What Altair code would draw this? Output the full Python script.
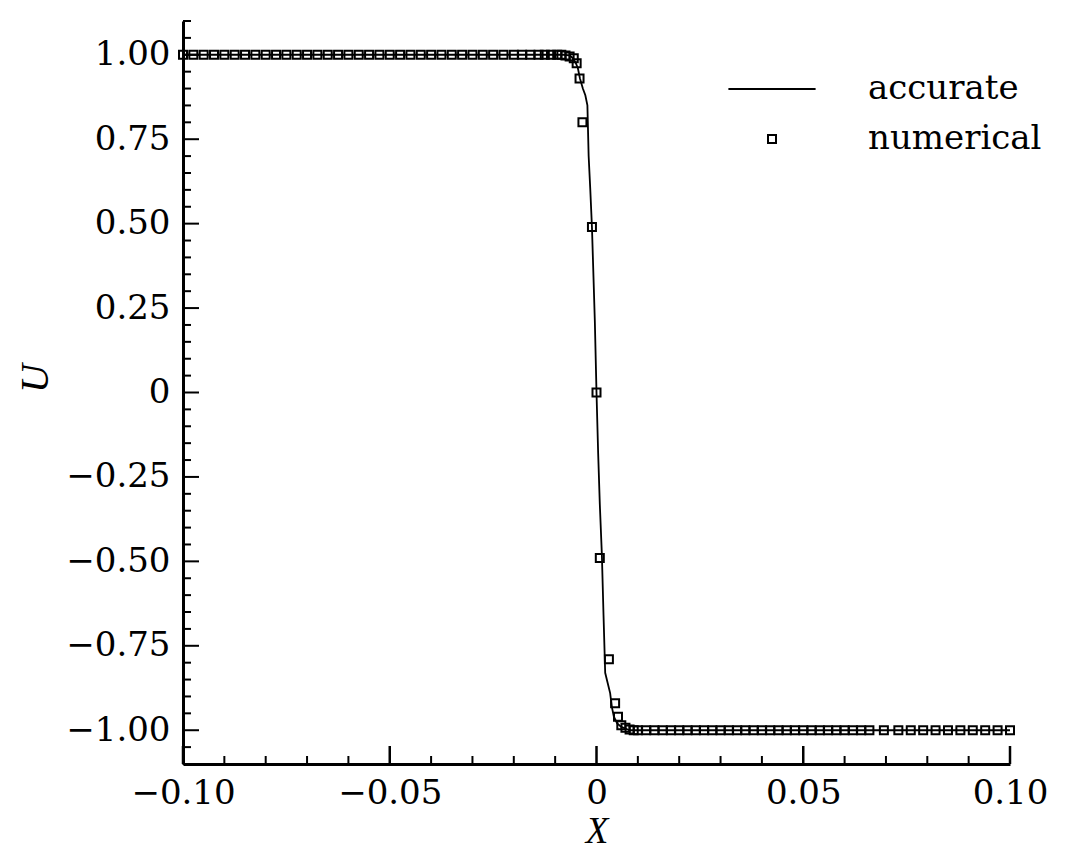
import altair as alt
import pandas as pd

# ---- accurate solution ----
acc_x = [-0.100, -0.020, -0.008, -0.0065, -0.0057, -0.0050, -0.0045, -0.0040, -0.0033,
         -0.0027, -0.0022, -0.0019, -0.0015, -0.0011, -0.0007, -0.0004, 0.0, 0.0004,
         0.0008, 0.0013, 0.0017, 0.0021, 0.0027, 0.0033, 0.0037, 0.0042, 0.0050, 0.0060,
         0.0070, 0.0080, 0.0100, 0.0200, 0.100]
acc_u = [1.0, 1.0, 1.0, 0.998, 0.99, 0.975, 0.96, 0.93, 0.90,
         0.88, 0.85, 0.70, 0.60, 0.49, 0.33, 0.21, 0.0, -0.18,
         -0.33, -0.48, -0.66, -0.83, -0.86, -0.89, -0.93, -0.96, -0.98, -0.99,
         -0.995, -1.0, -1.0, -1.0, -1.0]

# ---- numerical solution ----
num_x = [-0.1000, -0.0975, -0.0950, -0.0925, -0.0900, -0.0875, -0.0850, -0.0825, -0.0800,
         -0.0775, -0.0750, -0.0725, -0.0700, -0.0675, -0.0650, -0.0625, -0.0600, -0.0575,
         -0.0550, -0.0525, -0.0500, -0.0475, -0.0450, -0.0425, -0.0400, -0.0375, -0.0350,
         -0.0325, -0.0300, -0.0275, -0.0250, -0.0225, -0.0200, -0.0180, -0.0160, -0.0140,
         -0.0125, -0.0110, -0.0095, -0.0085, -0.0075, -0.0065, -0.0055, -0.0048,
         -0.0041, -0.0034, -0.0011, 0.0000, 0.0008, 0.0030, 0.0045, 0.0052,
         0.0060, 0.0070, 0.0080, 0.0090, 0.0100, 0.0120, 0.0140, 0.0160, 0.0180, 0.0200,
         0.0220, 0.0240, 0.0260, 0.0280, 0.0300, 0.0320, 0.0340, 0.0360, 0.0380, 0.0400,
         0.0420, 0.0440, 0.0460, 0.0480, 0.0500, 0.0520, 0.0540, 0.0560, 0.0580, 0.0600,
         0.0620, 0.0640, 0.0660, 0.0695, 0.0730, 0.0760, 0.0790, 0.0820, 0.0850, 0.0880,
         0.0910, 0.0940, 0.0970, 0.1000]
num_u = [1.0, 1.0, 1.0, 1.0, 1.0, 1.0, 1.0, 1.0, 1.0,
         1.0, 1.0, 1.0, 1.0, 1.0, 1.0, 1.0, 1.0, 1.0,
         1.0, 1.0, 1.0, 1.0, 1.0, 1.0, 1.0, 1.0, 1.0,
         1.0, 1.0, 1.0, 1.0, 1.0, 1.0, 1.0, 1.0, 1.0,
         1.0, 1.0, 1.0, 1.0, 0.998, 0.995, 0.99, 0.975,
         0.93, 0.80, 0.49, 0.0, -0.49, -0.79, -0.92, -0.96,
         -0.985, -0.993, -0.998, -1.0, -1.0, -1.0, -1.0, -1.0, -1.0, -1.0,
         -1.0, -1.0, -1.0, -1.0, -1.0, -1.0, -1.0, -1.0, -1.0, -1.0,
         -1.0, -1.0, -1.0, -1.0, -1.0, -1.0, -1.0, -1.0, -1.0, -1.0,
         -1.0, -1.0, -1.0, -1.0, -1.0, -1.0, -1.0, -1.0, -1.0, -1.0,
         -1.0, -1.0, -1.0, -1.0]

series_names = ["accurate", "numerical"]

# ---- axis ticks ----
x_major = [-0.10, -0.05, 0.0, 0.05, 0.10]
x_minor = [-0.09, -0.08, -0.07, -0.06, -0.04, -0.03, -0.02, -0.01,
           0.01, 0.02, 0.03, 0.04, 0.06, 0.07, 0.08, 0.09]
y_major = [-1.00, -0.75, -0.50, -0.25, 0.0, 0.25, 0.50, 0.75, 1.00]
y_minor = [-1.10, -1.05, -0.95, -0.90, -0.85, -0.80, -0.70, -0.65, -0.60, -0.55,
           -0.45, -0.40, -0.35, -0.30, -0.20, -0.15, -0.10, -0.05,
           0.05, 0.10, 0.15, 0.20, 0.30, 0.35, 0.40, 0.45,
           0.55, 0.60, 0.65, 0.70, 0.80, 0.85, 0.90, 0.95, 1.05, 1.10]

W, H = 827, 743
FONT = "DejaVu Serif"
TFONT = "Liberation Serif"

acc = pd.DataFrame({"x": acc_x, "u": acc_u, "series": series_names[0]})
num = pd.DataFrame({"x": num_x, "u": num_u, "series": series_names[1]})

xs = alt.Scale(domain=[-0.1, 0.1], nice=False, zero=False)
ys = alt.Scale(domain=[-1.1, 1.1], nice=False, zero=False)

lab = "datum.value == 0 ? '0' : format(datum.value, '.2f')"

x_axis = alt.Axis(values=x_major, labelExpr=lab, ticks=False, grid=False,
                  domainColor="black", domainWidth=3, labelFont=FONT, labelFontSize=34,
                  labelColor="black", labelPadding=12, labelFlush=False,
                  title="X", titleFont=TFONT, titleFontStyle="italic",
                  titleFontWeight="normal", titleFontSize=37, titleColor="black",
                  titlePadding=3)
y_axis = alt.Axis(values=y_major, labelExpr=lab, ticks=False, grid=False,
                  domainColor="black", domainWidth=3, labelFont=FONT, labelFontSize=34,
                  labelColor="black", labelPadding=13, labelFlush=False,
                  title="U", titleFont=TFONT, titleFontStyle="italic",
                  titleFontWeight="normal", titleFontSize=40, titleColor="black",
                  titlePadding=10, titleY=357)

line = alt.Chart(acc).mark_line(color="black", strokeWidth=1.8).encode(
    x=alt.X("x:Q", scale=xs, axis=x_axis),
    y=alt.Y("u:Q", scale=ys, axis=y_axis),
    order="x:Q",
)

legend = alt.Legend(title=None, orient="none", legendX=572, legendY=51,
                    labelFont=FONT, labelFontSize=34, labelColor="black",
                    labelOffset=79, labelLimit=400, rowPadding=16,
                    symbolStrokeColor="black",
                    symbolStrokeWidth=2, symbolSize=64, symbolFillColor="white")

pts = alt.Chart(num).mark_point(filled=False, color="black", size=64, strokeWidth=2,
                                opacity=1).encode(
    x=alt.X("x:Q", scale=xs),
    y=alt.Y("u:Q", scale=ys),
    shape=alt.Shape("series:N",
                    scale=alt.Scale(domain=series_names,
                                    range=["M-10.9,0H10.9", "square"]),
                    legend=legend),
)

ty_major = alt.Chart(pd.DataFrame({"v": y_major})).mark_rule(color="black", strokeWidth=2).encode(
    y=alt.Y("v:Q", scale=ys), x=alt.value(0), x2=alt.value(16))
ty_minor = alt.Chart(pd.DataFrame({"v": y_minor})).mark_rule(color="black", strokeWidth=2).encode(
    y=alt.Y("v:Q", scale=ys), x=alt.value(0), x2=alt.value(8))
tx_major = alt.Chart(pd.DataFrame({"v": x_major})).mark_rule(color="black", strokeWidth=2.5).encode(
    x=alt.X("v:Q", scale=xs), y=alt.value(H), y2=alt.value(H - 18))
tx_minor = alt.Chart(pd.DataFrame({"v": x_minor})).mark_rule(color="black", strokeWidth=2).encode(
    x=alt.X("v:Q", scale=xs), y=alt.value(H), y2=alt.value(H - 8))

chart = alt.layer(line, pts, ty_major, ty_minor, tx_major, tx_minor).properties(
    width=W, height=H,
    autosize=alt.AutoSizeParams(type="none"),
    padding={"left": 175, "top": 13, "right": 50, "bottom": 94},
    background="white",
).configure_view(stroke="transparent")

chart.save("out.html", embed_options={"renderer": "svg", "actions": False})
